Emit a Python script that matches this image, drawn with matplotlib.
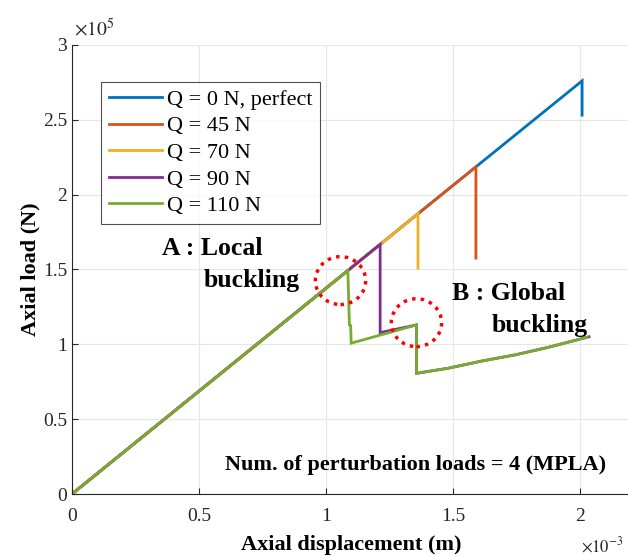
import matplotlib

matplotlib.use("Agg")
import matplotlib.pyplot as plt
from matplotlib.patches import Ellipse

# displacement in 1e-3 m, load in 1e5 N
x_q0 = [0.0, 2.008, 2.008]
y_q0 = [0.0, 2.759, 2.53]

x_q45 = [0.0, 1.590, 1.590]
y_q45 = [0.0, 2.185, 1.575]

x_q70 = [0.0, 1.362, 1.362]
y_q70 = [0.0, 1.871, 1.508]

x_q90 = [0.0, 1.213, 1.213, 1.356, 1.356, 1.481, 1.613, 1.744, 1.876, 2.035]
y_q90 = [0.0, 1.667, 1.078, 1.129, 0.806, 0.840, 0.888, 0.929, 0.980, 1.050]

x_q110 = [0.0, 1.086, 1.092, 1.097, 1.099, 1.356, 1.356, 1.481, 1.613, 1.744, 1.876, 2.028]
y_q110 = [0.0, 1.492, 1.129, 1.125, 1.007, 1.129, 0.806, 0.840, 0.888, 0.929, 0.980, 1.047]

labels = ["Q = 0 N, perfect", "Q = 45 N", "Q = 70 N", "Q = 90 N", "Q = 110 N"]
colors = ["#0072BD", "#D95319", "#EDB120", "#7E2F8E", "#77AC30"]

x_ticks = [0, 0.5, 1, 1.5, 2]
x_tick_labels = ["0", "0.5", "1", "1.5", "2"]
y_ticks = [0, 0.5, 1, 1.5, 2, 2.5, 3]
y_tick_labels = ["0", "0.5", "1", "1.5", "2", "2.5", "3"]

SERIF = "Liberation Serif"
plt.rcParams["font.family"] = SERIF
plt.rcParams["mathtext.fontset"] = "stix"

fig = plt.figure(figsize=(6.28, 5.56), dpi=100)
ax = fig.add_axes([0.1146, 0.1115, 0.89, 0.808])

series = [(x_q0, y_q0), (x_q45, y_q45), (x_q70, y_q70), (x_q90, y_q90), (x_q110, y_q110)]
for (xs, ys), color, label in zip(series, colors, labels):
    ax.plot(xs, ys, color=color, linewidth=2.0, label=label, solid_joinstyle="miter")

ax.set_xlim(0, 2.2)
ax.set_ylim(0, 3)
ax.set_xticks(x_ticks)
ax.set_xticklabels(x_tick_labels)
ax.set_yticks(y_ticks)
ax.set_yticklabels(y_tick_labels)
ax.tick_params(direction="in", labelsize=14, length=4, color="#262626", labelcolor="#262626")
ax.tick_params(axis="x", pad=10)
ax.grid(True, color="#e6e6e6", linewidth=0.8)
ax.set_axisbelow(True)
for side in ["top", "right"]:
    ax.spines[side].set_visible(False)
for side in ["left", "bottom"]:
    ax.spines[side].set_color("#262626")
    ax.spines[side].set_linewidth(0.8)

ax.set_xlabel("Axial displacement (m)", fontsize=16, fontweight="bold", labelpad=7)
ax.set_ylabel("Axial load (N)", fontsize=16, fontweight="bold", labelpad=2)

fig.text(0.118, 0.935, r"$\times10^{5}$", fontsize=14, color="#262626")
fig.text(0.925, 0.008, r"$\times10^{-3}$", fontsize=12, color="#262626")

leg = ax.legend(loc="upper left", bbox_to_anchor=(0.052, 0.918), fontsize=16,
                frameon=True, fancybox=False, edgecolor="#262626", handlelength=2.4,
                handletextpad=0.2, borderpad=0.35, labelspacing=0.27, borderaxespad=0)
leg.get_frame().set_linewidth(0.8)

ax.text(0.355, 1.597, "A : Local", fontsize=18.5, fontweight="bold", va="baseline")
ax.text(0.518, 1.383, "buckling", fontsize=18.5, fontweight="bold", va="baseline")
ax.text(1.494, 1.296, "B : Global", fontsize=18.5, fontweight="bold", va="baseline")
ax.text(1.652, 1.082, "buckling", fontsize=18.5, fontweight="bold", va="baseline")
ax.text(1.354, 0.16, "Num. of perturbation loads = 4 (MPLA)", fontsize=16,
        fontweight="bold", ha="center", va="baseline")

for cx, cy in [(1.057, 1.425), (1.356, 1.144)]:
    ax.add_patch(Ellipse((cx, cy), 0.198, 0.32, fill=False, edgecolor="red",
                         linestyle=(0, (1, 1.5)), linewidth=2.5, zorder=5))

fig.savefig("out.png", dpi=100)
